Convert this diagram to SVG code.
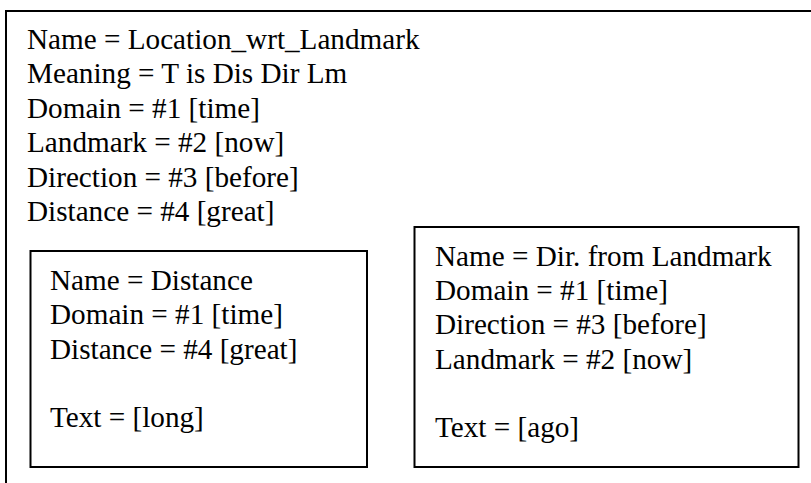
<svg xmlns="http://www.w3.org/2000/svg" width="811" height="483" viewBox="0 0 811 483">
<style>
.box{fill:#fff;stroke:#000;stroke-width:2}
.t{font-family:"Liberation Serif","Times New Roman",serif;font-size:29.2px;fill:#000}
</style>
<rect width="811" height="483" fill="#fff"/>
<g id="location_wrt_landmark">
<rect class="box" x="6" y="11" width="830" height="500"/>
<text class="t" x="27" y="48.5">Name = Location_wrt_Landmark</text>
<text class="t" x="27" y="83">Meaning = T is Dis Dir Lm</text>
<text class="t" x="27" y="117.5">Domain = #1 [time]</text>
<text class="t" x="27" y="152">Landmark = #2 [now]</text>
<text class="t" x="27" y="186.5">Direction = #3 [before]</text>
<text class="t" x="27" y="221">Distance = #4 [great]</text>
</g>
<g id="distance">
<rect class="box" x="30.5" y="251" width="336.5" height="216"/>
<text class="t" x="50" y="290">Name = Distance</text>
<text class="t" x="50" y="324.3">Domain = #1 [time]</text>
<text class="t" x="50" y="358.5">Distance = #4 [great]</text>
<text class="t" x="50" y="427">Text = [long]</text>
</g>
<g id="dir_from_landmark">
<rect class="box" x="414.5" y="227" width="384" height="240"/>
<text class="t" x="435" y="265.5">Name = Dir. from Landmark</text>
<text class="t" x="435" y="300">Domain = #1 [time]</text>
<text class="t" x="435" y="334.3">Direction = #3 [before]</text>
<text class="t" x="435" y="368.5">Landmark = #2 [now]</text>
<text class="t" x="435" y="437">Text = [ago]</text>
</g>
<g id="connectors"></g>
</svg>
